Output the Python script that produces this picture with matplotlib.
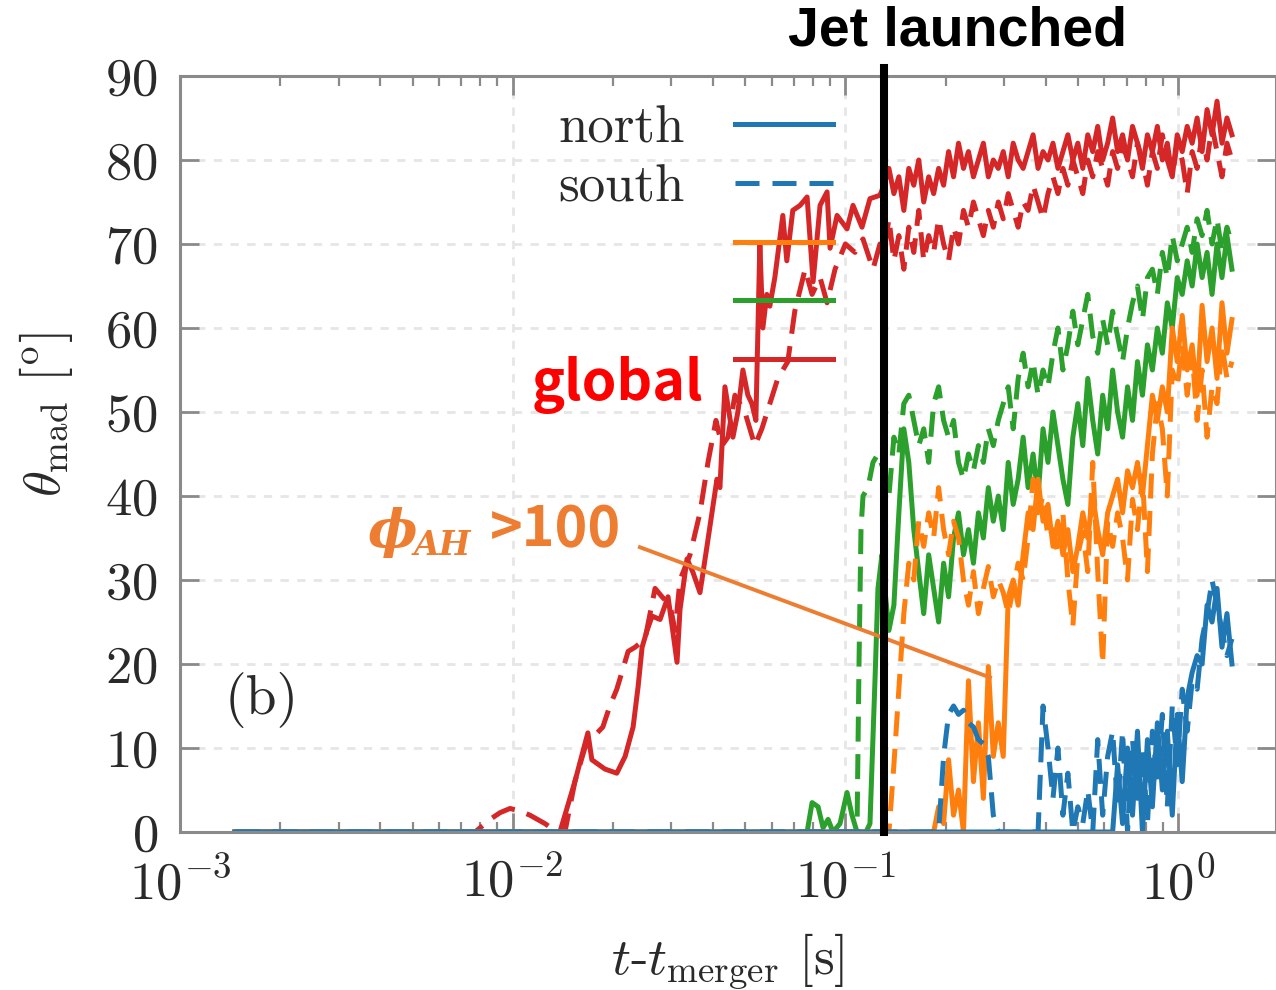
import numpy as np
import matplotlib
matplotlib.use("Agg")
import matplotlib.pyplot as plt
from matplotlib.lines import Line2D
from matplotlib.ticker import FuncFormatter, LogLocator, NullFormatter

plt.rcParams['font.family'] = 'cmr10'
plt.rcParams['mathtext.fontset'] = 'cm'
plt.rcParams['axes.formatter.use_mathtext'] = True

# --- data: log10(t - t_merger [s]) and theta_mad [deg] ---
# before the jet (irregular sampling)
red_n_pre_logt = [-2.835, -1.858, -1.813, -1.774, -1.762, -1.723, -1.687, -1.662, -1.638, -1.623,
                  -1.611, -1.596, -1.581, -1.557, -1.533, -1.518, -1.506, -1.497, -1.476, -1.458,
                  -1.437, -1.416, -1.401, -1.386, -1.377, -1.362, -1.338, -1.323, -1.308, -1.293,
                  -1.281, -1.269, -1.257, -1.248, -1.236, -1.227, -1.212, -1.188, -1.176, -1.158,
                  -1.136, -1.115, -1.097, -1.076, -1.055, -1.046, -1.025, -0.995, -0.977, -0.950,
                  -0.926, -0.896]
red_n_pre = [0, 0, 6, 11.8, 8.6, 7.5, 7.0, 9, 12.5, 17.3,
             22, 24, 25.7, 25.3, 28, 23.7, 20.2, 26.5, 32.5, 30.9,
             28.5, 34, 38, 42, 41, 53, 47, 50, 55, 52,
             51, 49, 70, 60, 64, 62.6, 66, 73.4, 68, 74,
             74.6, 75.6, 65.5, 74.6, 76.2, 69.5, 73.4, 71.8, 74.6, 72,
             75.4, 75.8]

red_s_pre_logt = [-2.835, -2.113, -2.098, -2.068, -2.038, -2.008, -1.978, -1.948, -1.903, -1.867,
                  -1.843, -1.813, -1.783, -1.753, -1.729, -1.708, -1.687, -1.668, -1.653, -1.632,
                  -1.602, -1.572, -1.551, -1.527, -1.512, -1.497, -1.467, -1.437, -1.413, -1.389,
                  -1.371, -1.353, -1.332, -1.302, -1.272, -1.251, -1.227, -1.203, -1.173, -1.152,
                  -1.121, -1.100, -1.076, -1.055, -1.031, -1.000, -0.971, -0.947, -0.917, -0.896]
red_s_pre = [0, 0, 0.5, 1.5, 2.3, 2.8, 2.5, 2.0, 1.0, 0,
             0, 6, 10, 11.5, 12.5, 15, 17, 19.5, 21.5, 22,
             23, 29, 28, 27, 24, 30, 33, 38, 44, 49,
             46, 47, 52, 50, 46, 48, 51, 54, 56, 62,
             67, 64, 66, 63, 67, 70, 69, 70.6, 67, 70]

green_n_pre_logt = [-2.835, -1.136, -1.115, -1.100, -1.082, -1.067, -1.052, -1.037, -1.016, -0.995,
                    -0.980, -0.965, -0.938, -0.926, -0.911, -0.902, -0.890]
green_n_pre = [0, 0, 0, 3.5, 3, 0.5, 1.5, 0, 1, 4.7,
               2, 0, 0, 1, 18, 29, 33]

green_s_pre_logt = [-2.835, -0.980, -0.965, -0.959, -0.953, -0.947, -0.932, -0.917, -0.902]
green_s_pre = [0, 0, 0, 20, 36, 40, 41, 44, 45]

zero_pre_logt = [-2.835]
zero_pre = [0]

# after the jet: regular output grid from launch to end of run
post_logt = np.linspace(-0.884, 0.162, 71)

red_n_post = [77, 79, 76, 78, 74, 79, 77, 80, 75, 78,
              76, 79, 77, 81, 78, 82, 79, 81, 78, 80,
              82, 78, 80, 79, 81, 78, 82, 80, 79, 81,
              83, 79, 81, 80, 82, 79, 81, 83, 80, 82,
              79, 83, 81, 84, 80, 82, 85, 81, 83, 80,
              84, 82, 79, 83, 81, 84, 80, 82, 78, 83,
              81, 84, 82, 85, 81, 86, 83, 87, 82, 85,
              83]
red_s_post = [69, 73, 68, 71, 67, 72, 69, 74, 68, 71,
              69, 73, 70, 68, 72, 70, 74, 72, 75, 73,
              71, 74, 72, 75, 73, 76, 74, 72, 75, 74,
              77, 75, 73, 76, 78, 76, 79, 77, 80, 78,
              76, 80, 78, 81, 79, 77, 81, 79, 82, 80,
              78, 82, 80, 77, 81, 79, 83, 80, 78, 82,
              80, 76, 81, 79, 83, 80, 84, 81, 78, 82,
              80]
green_n_post = [30, 24, 27, 38, 48, 44, 36, 31, 26, 33,
                29, 25, 32, 28, 35, 38, 33, 36, 32, 38,
                35, 41, 37, 40, 36, 44, 39, 42, 47, 41,
                45, 40, 48, 44, 50, 46, 42, 39, 47, 51,
                46, 54, 49, 45, 52, 48, 55, 50, 47, 53,
                49, 56, 52, 58, 55, 60, 57, 63, 60, 66,
                64, 68, 65, 70, 66, 69, 64, 70, 66, 71,
                67]
green_s_post = [43, 40, 47, 45, 51, 52, 49, 46, 48, 44,
                51, 53, 49, 47, 49, 44, 42, 45, 43, 46,
                44, 48, 46, 49, 51, 53, 48, 54, 57, 53,
                56, 52, 55, 53, 57, 60, 55, 58, 62, 58,
                61, 64, 59, 57, 61, 58, 62, 59, 56, 60,
                63, 65, 61, 66, 67, 64, 69, 66, 71, 68,
                70, 72, 69, 73, 71, 74, 70, 73, 69, 72,
                70]
orange_n_post = [0, 0, 0, 0, 0, 0, 0, 0, 0, 0,
                 0, 3, 1, 8.6, 2, 5, 0, 18, 6, 13,
                 4, 19.7, 9, 13, 9, 28, 30, 27, 33, 38,
                 36, 42, 37, 39, 34, 37, 33, 36, 31, 34,
                 38, 35, 40, 36, 33, 38, 40, 42, 38, 43,
                 41, 44, 40, 46, 52, 49, 53, 50, 60, 56,
                 61.5, 55, 58, 52, 62.7, 56, 60, 54, 63, 57,
                 61]
orange_s_post = [0, 0, 8, 17, 26, 32, 30, 37, 34, 38,
                 35, 41, 36, 33, 37, 35, 30, 27, 31, 26,
                 29, 31.6, 28, 30, 28.5, 26, 29, 32, 30, 35,
                 42, 38, 40, 35, 36, 33, 38, 30, 24.5, 33,
                 35.7, 31, 44, 31, 20, 37, 34, 38, 35, 30,
                 39.6, 36, 42.4, 31, 45, 51, 48, 40, 55, 53,
                 58, 52, 57, 49, 55, 47, 53, 51, 58, 54,
                 56]
blue_n_post = [0] * 47 + [8, 1, 10, 2, 12, 0, 11, 3, 13, 5,
                          12, 2, 14, 6, 16, 19, 21, 20, 27, 25,
                          29, 22, 26, 20]
blue_s_post = ([0] * 12 + [9, 14, 15, 14, 14.5, 13, 12.5, 11, 10.5, 9, 2, 0]
               + [0] * 8 + [15, 10, 4, 10, 2, 7, 0, 3, 1, 5,
                            0, 11, 2, 9, 12, 3, 12, 0, 11, 4,
                            10, 1, 12, 6, 14, 3, 15, 8, 17, 12,
                            18, 17, 23, 26, 30, 27, 24, 21, 23])

t_jet = 0.1306

c_blue, c_orange, c_green, c_red = '#1f77b4', '#ff7f0e', '#2ca02c', '#d62728'
dash = (0, (5, 2.5))


def series(pre_logt, pre_val, post_val):
    t = 10 ** np.concatenate([pre_logt, post_logt])
    v = np.concatenate([pre_val, post_val])
    return t, v


fig = plt.figure(figsize=(6.38, 4.95), dpi=200)
ax = fig.add_axes([180 / 1276, (990 - 832) / 990, 1096 / 1276, 756 / 990])

lw = 1.8
ax.plot(*series(red_n_pre_logt, red_n_pre, red_n_post), color=c_red, lw=lw)
ax.plot(*series(red_s_pre_logt, red_s_pre, red_s_post), color=c_red, lw=lw, ls=dash)
ax.plot(*series(green_n_pre_logt, green_n_pre, green_n_post), color=c_green, lw=lw)
ax.plot(*series(green_s_pre_logt, green_s_pre, green_s_post), color=c_green, lw=lw, ls=dash)
ax.plot(*series(zero_pre_logt, zero_pre, orange_n_post), color=c_orange, lw=lw)
ax.plot(*series(zero_pre_logt, zero_pre, orange_s_post), color=c_orange, lw=lw, ls=dash)
ax.plot(*series(zero_pre_logt, zero_pre, blue_n_post), color=c_blue, lw=lw)
ax.plot(*series(zero_pre_logt, zero_pre, blue_s_post), color=c_blue, lw=lw, ls=dash)

ax.set_xscale('log')
ax.set_xlim(1e-3, 1.97)
ax.set_ylim(0, 90)
ax.set_yticks(np.arange(0, 91, 10))
ax.xaxis.set_major_locator(LogLocator(base=10, numticks=10))
ax.xaxis.set_minor_locator(LogLocator(base=10, subs=np.arange(2, 10), numticks=20))
ax.xaxis.set_minor_formatter(NullFormatter())
ax.xaxis.set_major_formatter(FuncFormatter(lambda v, p: r'$10^{%d}$' % round(np.log10(v))))

for s in ax.spines.values():
    s.set_color('#8a8a8a')
    s.set_linewidth(1.1)
ax.tick_params(which='both', direction='in', top=True, right=True, color='#8a8a8a',
               labelcolor='#2a2a2a', labelsize=19)
ax.tick_params(which='major', length=7, width=1.0)
ax.tick_params(which='minor', length=3.5, width=0.8)
ax.tick_params(axis='x', pad=9)
ax.tick_params(axis='y', pad=8)
ax.grid(True, which='major', color='#e6e6e6', ls=(0, (3, 3)), lw=1.0)
ax.set_axisbelow(True)

ax.set_ylabel(r'$\theta_{\rm mad}$ [$^{\rm o}$]', fontsize=19, color='#2a2a2a')
ax.yaxis.set_label_coords(-0.096, 0.552)
ax.set_xlabel(r'$t$-$t_{\rm merger}$ [s]', fontsize=19, color='#2a2a2a')
ax.xaxis.set_label_coords(0.5, -0.132)

# jet launch marker
ax.axvline(t_jet, ymin=0, ymax=1.0106, color='k', lw=2.9, clip_on=False, zorder=7)
fig.text(958 / 1276, 1 - 32 / 990, 'Jet launched', ha='center', va='center',
         fontsize=20, fontweight='bold', family='Liberation Sans')

# legend (labels only on the first two, as in the original)
handles = [Line2D([], [], color=c_blue, lw=1.8),
           Line2D([], [], color=c_blue, lw=1.8, ls=(0, (4.8, 2.6))),
           Line2D([], [], color=c_orange, lw=1.8),
           Line2D([], [], color=c_green, lw=1.8),
           Line2D([], [], color=c_red, lw=1.8)]
ax.legend(handles, ['north', 'south', ' ', ' ', ' '], loc='upper right',
          bbox_to_anchor=((833 - 180) / 1096, (832 - 106) / 756), frameon=False,
          markerfirst=False, fontsize=19, handlelength=1.86, handletextpad=0.95,
          labelspacing=0.22, borderpad=0, borderaxespad=0, labelcolor='#2a2a2a')

# annotations
ax.text(0.041, 0.175, '(b)', transform=ax.transAxes, fontsize=20, va='center',
        color='#2a2a2a')
ax.text(0.399, 0.571, 'global', transform=ax.transAxes, color='#ff0000', fontsize=20,
        fontweight='bold', family='Noto Sans CJK JP', ha='center', va='baseline')
c_ann = '#ed7d31'
ax.text(0.1706, 0.377, '\u03d5', transform=ax.transAxes, color=c_ann, fontsize=19,
        family='DejaVu Serif', style='italic', weight='bold', va='baseline')
ax.text(0.2135, 0.366, 'AH', transform=ax.transAxes, color=c_ann, fontsize=12,
        family='DejaVu Serif', style='italic', weight='bold', va='baseline')
ax.text(0.2830, 0.378, '>100', transform=ax.transAxes, color=c_ann, fontsize=20,
        family='Noto Sans CJK JP', weight='bold', va='baseline')
ax.plot([0.02413, 0.2720], [33.9, 18.4], color=c_ann, lw=1.4, zorder=6)

fig.savefig('out.png', dpi=200)
